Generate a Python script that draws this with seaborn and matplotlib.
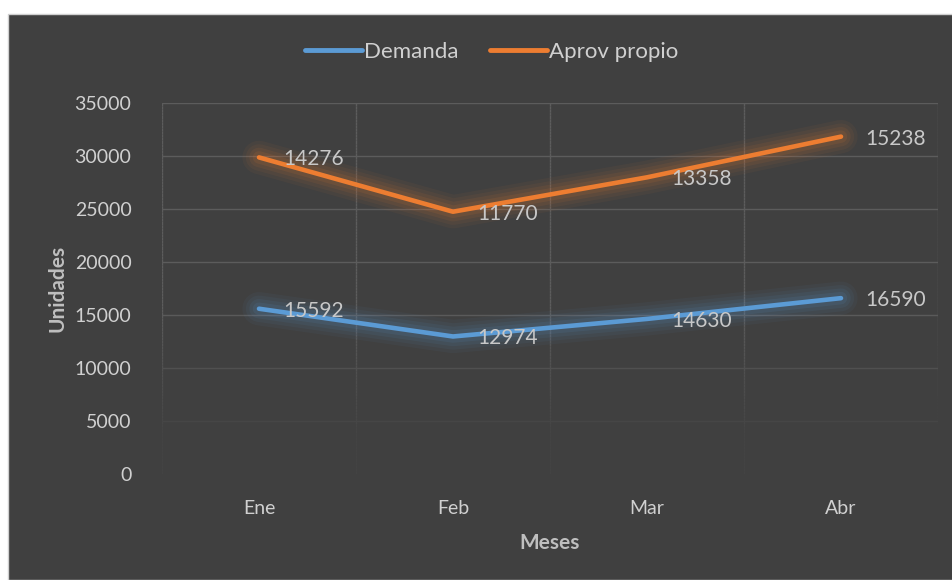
import matplotlib
matplotlib.use("Agg")
import matplotlib.pyplot as plt
import seaborn as sns
import pandas as pd
import numpy as np
from matplotlib.patches import Rectangle
from matplotlib.lines import Line2D
from matplotlib.collections import LineCollection
from matplotlib.colors import to_rgb

months = ["Ene", "Feb", "Mar", "Abr"]
demanda = [15592, 12974, 14630, 16590]
aprov = [14276, 11770, 13358, 15238]
series_names = ["Demanda", "Aprov propio"]
colors = {"Demanda": "#5B9BD5", "Aprov propio": "#ED7D31"}

# stacked line chart (Excel "stacked line")
stack_dem = np.array(demanda)
stack_apr = stack_dem + np.array(aprov)

df = pd.DataFrame({
    "x": list(range(len(months))) * 2,
    "y": list(stack_dem) + list(stack_apr),
    "label": demanda + aprov,
    "serie": ["Demanda"] * 4 + ["Aprov propio"] * 4,
})

sns.set_theme(style="dark")
plt.rcParams["font.family"] = ["Lato", "DejaVu Sans"]

BG = "#404040"
GRID = "#5C5C5C"
TXT = "#D0D0D0"
fig = plt.figure(figsize=(9.53, 5.80), dpi=100)
fig.patch.set_facecolor("white")
fig.patches.append(Rectangle((8 / 953, 0), 1 - 8 / 953, 1 - 14 / 580,
                             transform=fig.transFigure, facecolor=BG,
                             edgecolor="#D0D0D0", linewidth=1.0, zorder=-10))

ax = fig.add_axes([162 / 953, 1 - 474 / 580, (938 - 162) / 953, (474 - 103) / 580])
ax.set_facecolor(BG)

ymax = 35000
bg_rgb = np.array(to_rgb(BG))
gr_rgb = np.array(to_rgb(GRID))


def fade(y):
    # gridlines fade toward the bottom of the plot area
    t = np.clip((y / ymax - 0.1) / 0.35, 0, 1)
    return tuple(bg_rgb + (gr_rgb - bg_rgb) * (0.1 + 0.9 * t))


# horizontal gridlines
for yv in range(0, ymax + 1, 5000):
    ax.axhline(yv, color=fade(yv), lw=1, zorder=0.5)
# vertical gridlines (category boundaries)
ys = np.linspace(0, ymax, 120)
for xv in [-0.5, 0.5, 1.5, 2.5, 3.5]:
    segs = [[(xv, ys[i]), (xv, ys[i + 1])] for i in range(len(ys) - 1)]
    cols = [fade((ys[i] + ys[i + 1]) / 2) for i in range(len(ys) - 1)]
    ax.add_collection(LineCollection(segs, colors=cols, lw=1, zorder=0.5))

# glow
for name in series_names:
    sub = df[df.serie == name]
    for lw, a in [(24, 0.05), (19, 0.06), (14, 0.08), (9, 0.10)]:
        ax.plot(sub.x, sub.y, color=colors[name], lw=lw, alpha=a,
                solid_capstyle="round", solid_joinstyle="round", zorder=2)

sns.lineplot(data=df, x="x", y="y", hue="serie", palette=colors,
             hue_order=series_names, linewidth=3.3, ax=ax, zorder=3,
             legend=False)
for l in ax.lines[-2:]:
    l.set_solid_capstyle("round")

for _, r in df.iterrows():
    ax.annotate(f"{r.label}", (r.x, r.y), xytext=(24, -2),
                textcoords="offset pixels", ha="left", va="center",
                fontsize=15, color="#C8C8C8", zorder=5)

ax.set_xlim(-0.5, 3.5)
ax.set_ylim(0, ymax)
ax.set_yticks(range(0, ymax + 1, 5000))
ax.set_xticks(range(4))
ax.set_xticklabels(months)
ax.grid(False)
for s in ax.spines.values():
    s.set_visible(False)
ax.tick_params(axis="both", which="both", length=0, colors=TXT, labelsize=14)
ax.tick_params(axis="x", pad=19)
ax.tick_params(axis="y", pad=22)
ax.set_xlabel("Meses", fontsize=15, fontweight="bold", color="#BFBFBF", labelpad=11)
ax.set_ylabel("Unidades", fontsize=15, fontweight="bold", color="#BFBFBF", labelpad=5)

handles = [Line2D([0], [0], color=colors[n], lw=3.5, solid_capstyle="round") for n in series_names]
leg = fig.legend(handles, series_names, loc="center", bbox_to_anchor=(0.516, 1 - 52 / 580),
                 ncol=2, frameon=False, fontsize=16, handlelength=2.55,
                 handletextpad=0.1, columnspacing=1.4)
for t in leg.get_texts():
    t.set_color(TXT)

fig.savefig("out.png", dpi=100, facecolor=fig.get_facecolor())
